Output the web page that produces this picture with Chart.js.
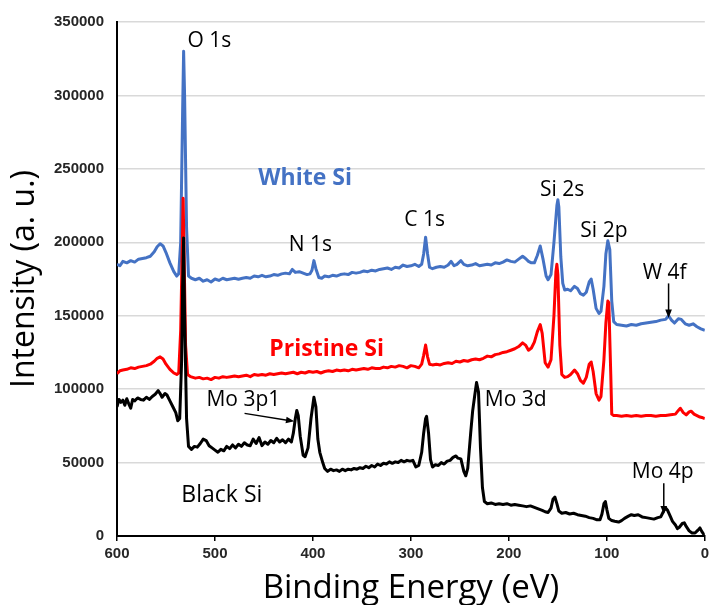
<!DOCTYPE html>
<html>
<head>
<meta charset="utf-8">
<script src="https://cdn.jsdelivr.net/npm/chart.js@4.4.1/dist/chart.umd.min.js"></script>
<style>
  html, body { margin: 0; padding: 0; background: #fff; }
  #wrap { width: 713px; height: 605px; }
</style>
</head>
<body>
<div id="wrap"><canvas id="xps" width="713" height="605"></canvas></div>
<script>
'use strict';

// binding energy (eV) / intensity pairs
var whiteEnergy = [600,597,594,590,586,582,578,574,570,566,562,559,556,553,550,546,542,539,537,535,533,532,531,529,527,524,520,516,512,508,504,500,496,492,488,484,480,476,472,468,464,460,456,452,448,444,440,436,432,428,424,421,418,414,410,406,403,401,399,397,394,391,388,384,380,376,372,368,364,360,356,352,348,344,340,336,332,328,324,320,316,312,308,304,300,296,292,289,287,285,283,281,278,274,270,266,262,259,256,253,249,246,242,238,234,230,226,222,218,214,210,206,202,198,194,190,186,183,180,177,174,171,168,165,162,160,157,154,151,150,149,147,145,143,140,137,133,130,127,124,121,118,116,114,111,108,106,103,101,99,97,95,93,90,85,80,75,70,65,60,55,50,45,40,37,34,31,27,24,20,16,12,8,4,0];
var whiteIntensity = [185000,184000,187000,186000,187500,186500,188500,189000,189500,190500,193500,197000,199000,197500,193000,186000,180000,177000,178500,200000,290000,330000,300000,210000,177000,175500,174500,175500,173500,174500,173000,175000,174000,175500,174500,175000,175500,174800,175500,176000,175500,177000,176500,177500,176500,177000,178000,177500,178500,179000,178500,181500,179500,180000,179000,178000,178500,181000,187500,182000,176000,175500,177000,176500,177500,177000,178000,178500,178000,179500,179000,179500,180500,180000,181000,180500,181500,182000,182500,181500,183000,182500,184500,183500,184000,185000,183500,185000,192000,203500,192000,183000,182000,183000,183500,183000,184500,187000,184000,185000,187500,185000,184000,184500,185500,184000,184500,185000,184500,186000,185500,186500,188000,187000,186500,188500,190500,189000,187000,186000,186000,191000,197500,188000,177000,174500,178000,200000,225000,229000,224000,190000,172000,167500,168000,167000,170000,168500,165000,164000,166000,173000,175000,168000,155000,151500,153000,170000,192000,201000,195000,160000,146000,144000,143500,143000,144000,143500,144500,145000,145500,146000,147000,147500,150000,147000,145000,148000,147500,144500,143500,144500,142500,141000,140000];

var pristineEnergy = [600,597,594,590,586,582,578,574,570,566,562,559,556,553,550,546,542,539,537,535,533,532.5,531.5,530,528,525,520,516,512,508,504,500,496,492,488,484,480,476,472,468,464,460,456,452,448,444,440,436,432,428,424,420,416,412,408,404,400,396,392,388,384,380,376,372,368,364,360,356,352,348,344,340,336,332,328,324,320,316,312,308,304,300,296,292,289,287,285,283,281,278,274,270,266,262,258,254,250,246,242,238,234,230,226,222,218,214,210,206,202,198,194,190,186,183,180,177,174,171,168,166,163,160,157,154,152,151,150,148,146,143,140,137,133,130,127,124,121,118,116,114,111,108,106,103,101,99,98,96,95,93,90,85,80,75,70,65,60,55,50,45,40,35,30,27,25,22,19,16,14,11,8,5,2,0];
var pristineIntensity = [110500,112500,113000,113500,114500,114000,115000,115500,116000,117000,119000,121000,122000,120500,117000,113500,111000,110000,111000,140000,210000,230000,190000,130000,110000,108500,107500,108000,107000,107500,106500,108000,107500,108500,108000,108500,109000,108500,109000,109500,108500,110000,109500,110000,109500,110500,110000,110500,111000,110500,111000,111500,110500,111500,111000,112000,111500,112000,111000,112000,112500,112000,113000,112500,113000,112500,113500,113000,113500,114000,113500,114500,114000,114000,115000,114500,115500,115000,116000,115500,114500,116000,115500,114500,117000,123000,130000,122000,117000,116500,117000,116500,117500,118000,117500,119000,118500,119500,119000,120000,120500,120000,121000,122500,122000,123500,124000,125000,125500,126500,127500,129000,131500,130000,126500,128000,132000,139000,144000,138000,118000,115000,120000,150000,180000,185000,178000,130000,110000,108000,108500,110000,113000,110500,106000,104000,108000,117000,118500,112000,97000,92500,95000,120000,145000,160000,159000,110000,83000,82000,82000,81500,82000,81500,82000,81500,82000,82000,81500,82000,82000,82500,83000,85500,87000,84000,82500,84500,85000,83000,82000,81000,80500,80000];

var blackEnergy = [600,598,596,594,592,590,588,586,584,582,579,576,573,570,567,564,561,558,556,554,551,549,546,543,540,538,536,534,533,532,531,529,527,524,521,518,515,512,509,506,503,500,497,494,491,488,485,482,479,476,473,470,467,464,461,458,455,452,449,446,443,440,437,434,431,428,425,422,420,418,416.5,415,413,410,408,405,402,399,397,395,393,390,388,385,382,379,376,373,370,367,364,361,358,355,352,349,346,343,340,337,334,331,328,325,322,319,316,313,310,307,304,301,298,295,292,289,287,285,284,282,280,278,275,272,269,266,263,260,257,254,252,249,246,244,242,239,237,235,233,231,229,227,225,222,218,214,210,206,202,198,194,190,186,182,178,174,170,166,163,160,157,155,153,151,149,146,142,138,134,130,126,122,118,114,110,107,105,103,101.5,100,98,95,92,88,85,82,78,75,72,68,64,60,56,52,48,45,42,40,38,35,33,30,28,26,23,21,19,16,13,10,7,5,3,1,0];
var blackIntensity = [88000,93000,91000,92500,89000,93500,90000,87000,93000,92000,94000,93000,92500,94500,93000,95000,96500,99000,97000,94500,97000,96000,92000,88000,84000,78500,80000,120000,170000,203000,150000,80000,61000,59000,61000,60500,63000,66000,65000,61500,60000,58500,57000,59000,58000,61000,59500,62000,60000,62500,61000,63500,62000,61500,66000,63000,67000,61500,64000,62500,65000,63500,66500,64000,65500,63500,66000,64000,70000,80000,85500,82000,68000,55000,54000,60000,80000,94500,88000,66000,57000,50000,46000,44000,45500,44500,45000,44000,45500,44500,45500,45000,46000,45500,46500,46000,47500,46500,48000,47000,49000,48000,49500,49000,50500,49500,50500,50000,51500,50500,51500,51000,51500,47000,48000,57000,70000,80000,81500,70000,52000,47000,48500,48000,50000,49000,51000,51500,53500,54500,53000,52500,44000,41000,46000,70000,85000,95000,104500,98000,60000,33000,23500,22000,22500,21500,22000,21500,22000,21000,21500,21000,20500,20000,20500,19500,18500,17500,16500,16000,19000,25000,26500,22000,17000,15500,16000,15000,15500,14500,14000,13500,12500,12000,11000,11000,15000,22000,23500,18000,12000,10500,10000,9500,10500,12000,13500,14500,14000,14500,13000,12500,12000,11500,12500,13000,17000,19000,17500,13000,10000,7500,5000,6000,8500,9000,6500,3500,2000,2000,4000,5500,3000,1000,500];

var yTicks = [0, 50000, 100000, 150000, 200000, 250000, 300000, 350000];

// peak names and sample names, placed in data coordinates (eV, counts)
var peakFont = '21px "Open Sans"';
var peakLabels = [
  { text: 'O 1s',        ev: 528, y: 337000, color: '#000', font: peakFont, align: 'left' },
  { text: 'White Si',    ev: 408, y: 243200, color: '#4472c4', font: 'bold 23px "Open Sans"', align: 'center' },
  { text: 'N 1s',        ev: 402.7, y: 198400, color: '#000', font: peakFont, align: 'center' },
  { text: 'C 1s',        ev: 286, y: 215300, color: '#000', font: peakFont, align: 'center' },
  { text: 'Si 2s',       ev: 145.6, y: 235700, color: '#000', font: peakFont, align: 'center' },
  { text: 'Si 2p',       ev: 103, y: 207900, color: '#000', font: peakFont, align: 'center' },
  { text: 'W 4f',        ev: 41, y: 179300, color: '#000', font: peakFont, align: 'center' },
  { text: 'Pristine Si', ev: 386, y: 127000, color: '#ff0000', font: 'bold 23px "Open Sans"', align: 'center' },
  { text: 'Mo 3p1',      ev: 471, y: 92400, color: '#000', font: peakFont, align: 'center' },
  { text: 'Mo 3d',       ev: 193, y: 92400, color: '#000', font: peakFont, align: 'center' },
  { text: 'Black Si',    ev: 493, y: 27850, color: '#000', font: '23px "Open Sans"', align: 'center' },
  { text: 'Mo 4p',       ev: 43, y: 43500, color: '#000', font: peakFont, align: 'center' }
];

var arrows = [
  { from: [37, 172000], to: [37, 148500] },
  { from: [469.8, 83500], to: [419, 78100] },
  { from: [41.9, 36000], to: [41.9, 14800] }
];

function toPoints(xs, ys) {
  return xs.map(function (x, i) { return { x: x, y: ys[i] }; });
}

var annotationPlugin = {
  id: 'xpsAnnotations',
  afterDatasetsDraw: function (chart) {
    var ctx = chart.ctx;
    var sx = chart.scales.x;
    var sy = chart.scales.y;
    ctx.save();
    ctx.textBaseline = 'middle';
    peakLabels.forEach(function (l) {
      ctx.font = l.font;
      ctx.fillStyle = l.color;
      ctx.textAlign = l.align;
      ctx.fillText(l.text, sx.getPixelForValue(l.ev), sy.getPixelForValue(l.y));
    });

    ctx.strokeStyle = '#000';
    ctx.fillStyle = '#000';
    ctx.lineWidth = 1.5;
    arrows.forEach(function (a) {
      var x1 = sx.getPixelForValue(a.from[0]), y1 = sy.getPixelForValue(a.from[1]);
      var x2 = sx.getPixelForValue(a.to[0]), y2 = sy.getPixelForValue(a.to[1]);
      var ang = Math.atan2(y2 - y1, x2 - x1);
      var head = 9;
      ctx.beginPath();
      ctx.moveTo(x1, y1);
      ctx.lineTo(x2 - Math.cos(ang) * head * 0.8, y2 - Math.sin(ang) * head * 0.8);
      ctx.stroke();
      ctx.beginPath();
      ctx.moveTo(x2, y2);
      ctx.lineTo(x2 - head * Math.cos(ang - 0.38), y2 - head * Math.sin(ang - 0.38));
      ctx.lineTo(x2 - head * Math.cos(ang + 0.38), y2 - head * Math.sin(ang + 0.38));
      ctx.closePath();
      ctx.fill();
    });
    ctx.restore();
  }
};

var tickFont = { family: '"Liberation Sans", Arial, sans-serif', size: 15, weight: 'bold' };

var chart = new Chart(document.getElementById('xps').getContext('2d'), {
  type: 'line',
  data: {
    datasets: [
      { label: 'Black Si', data: toPoints(blackEnergy, blackIntensity), borderColor: '#000000', borderWidth: 3 },
      { label: 'Pristine Si', data: toPoints(pristineEnergy, pristineIntensity), borderColor: '#ff0000', borderWidth: 3 },
      { label: 'White Si', data: toPoints(whiteEnergy, whiteIntensity), borderColor: '#4472c4', borderWidth: 3 }
    ]
  },
  options: {
    responsive: false,
    animation: false,
    devicePixelRatio: 1,
    parsing: false,
    elements: {
      point: { radius: 0 },
      line: { tension: 0, fill: false, borderJoinStyle: 'round' }
    },
    layout: { padding: { top: 21, right: 5, left: 0, bottom: 0 } },
    plugins: {
      legend: { display: false },
      tooltip: { enabled: false }
    },
    scales: {
      x: {
        type: 'linear',
        reverse: true,
        min: 0,
        max: 600,
        ticks: { stepSize: 100, color: '#262626', font: tickFont, padding: 4, autoSkip: false, maxRotation: 0 },
        grid: { display: true, drawOnChartArea: false, drawTicks: true, tickLength: 5, color: '#000', lineWidth: 1.5 },
        border: { color: '#000', width: 2 },
        title: {
          display: true, text: 'Binding Energy (eV)', color: '#000',
          font: { family: '"Open Sans"', size: 33, lineHeight: 1 },
          padding: { top: 0, bottom: 0 }
        },
        afterFit: function (scale) { scale.height = 69; }
      },
      y: {
        type: 'linear',
        min: 0,
        max: 350000,
        afterBuildTicks: function (scale) {
          scale.ticks = yTicks.map(function (v) { return { value: v }; });
        },
        ticks: { color: '#262626', font: tickFont, padding: 13, callback: function (v) { return String(v); } },
        grid: { color: '#d9d9d9', lineWidth: 1.5, drawTicks: false },
        border: { color: '#000', width: 2 },
        title: {
          display: true, text: 'Intensity (a. u.)', color: '#000',
          font: { family: '"Open Sans"', size: 32, lineHeight: 1.2 },
          padding: { top: 6, bottom: 0 }
        },
        afterFit: function (scale) { scale.width = 117; }
      }
    }
  },
  plugins: [annotationPlugin]
});
</script>
</body>
</html>
